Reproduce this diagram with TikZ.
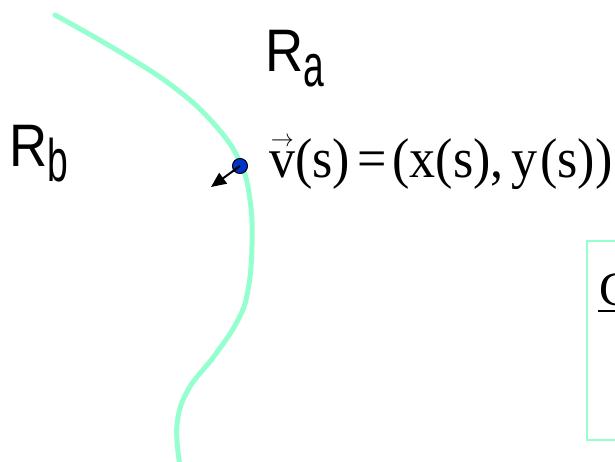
\documentclass[tikz,border=0pt]{standalone}
\usepackage{fontspec}
\setmainfont{Liberation Serif}
\newfontfamily\arialfont{Liberation Sans}
\usetikzlibrary{arrows.meta}
\definecolor{contour}{RGB}{150,255,208}
\definecolor{ptblue}{RGB}{0,51,204}
\newcommand{\regionlbl}[2]{\scalebox{0.88}[1]{#1}\raisebox{-15pt}{\scalebox{0.62}[1]{#2}}}
\newcommand{\vecv}{\leavevmode\rlap{\hspace{0.03em}\raisebox{0.56em}{\resizebox{0.44em}{0.16em}{$\rightarrow$}}}v}

\begin{document}
\begin{tikzpicture}[
    x=1pt, y=-1pt,
    region/.style = {font=\arialfont\fontsize{60}{60}\selectfont,
                     inner sep=0pt, anchor=base west},
    eqn/.style = {font=\fontsize{56}{56}\selectfont,
                  inner sep=0pt, anchor=base west},
    arr/.style = {-{Triangle[length=15pt, width=13pt]}, line width=2pt},
  ]
    \useasboundingbox (0,0) rectangle (615,462);
    \clip (0,0) rectangle (615,462);
    % contour
    \draw[contour, line width=5pt, line cap=round] plot[smooth, tension=0.7]
      coordinates {(55,15) (120,52) (175,88) (215,125) (240,162) (250,200)
                   (252,245) (248,290) (238,320) (215,355) (188,390)
                   (177,425) (180,466)};
    % region labels
    \node[region] (ra) at (265,72) {\regionlbl{R}{a}};
    \node[region] (rb) at (9,167) {\regionlbl{R}{b}};
    % point on the contour
    \node[circle, draw, line width=1pt, fill=ptblue, minimum size=15pt,
          inner sep=0pt] (pt) at (240,166) {};
    \coordinate (tip) at (211,187);
    \draw[arr] (pt.center) -- (tip);
    \node[eqn] (vs) at (269,178)
      {\scalebox{0.93}[1]{\vecv(s)\kern8pt=\kern6pt(x(s),\kern8pt y\kern3pt(s))}};
    % side box
    \draw[contour, line width=1.5pt] (587,241) rectangle (660,440);
    \node[font=\fontsize{48}{48}\selectfont, inner sep=0pt,
          anchor=base west] (frac) at (599,305) {C};
    \draw[line width=1.5pt] (598,311) -- (660,311);
\end{tikzpicture}
\end{document}
